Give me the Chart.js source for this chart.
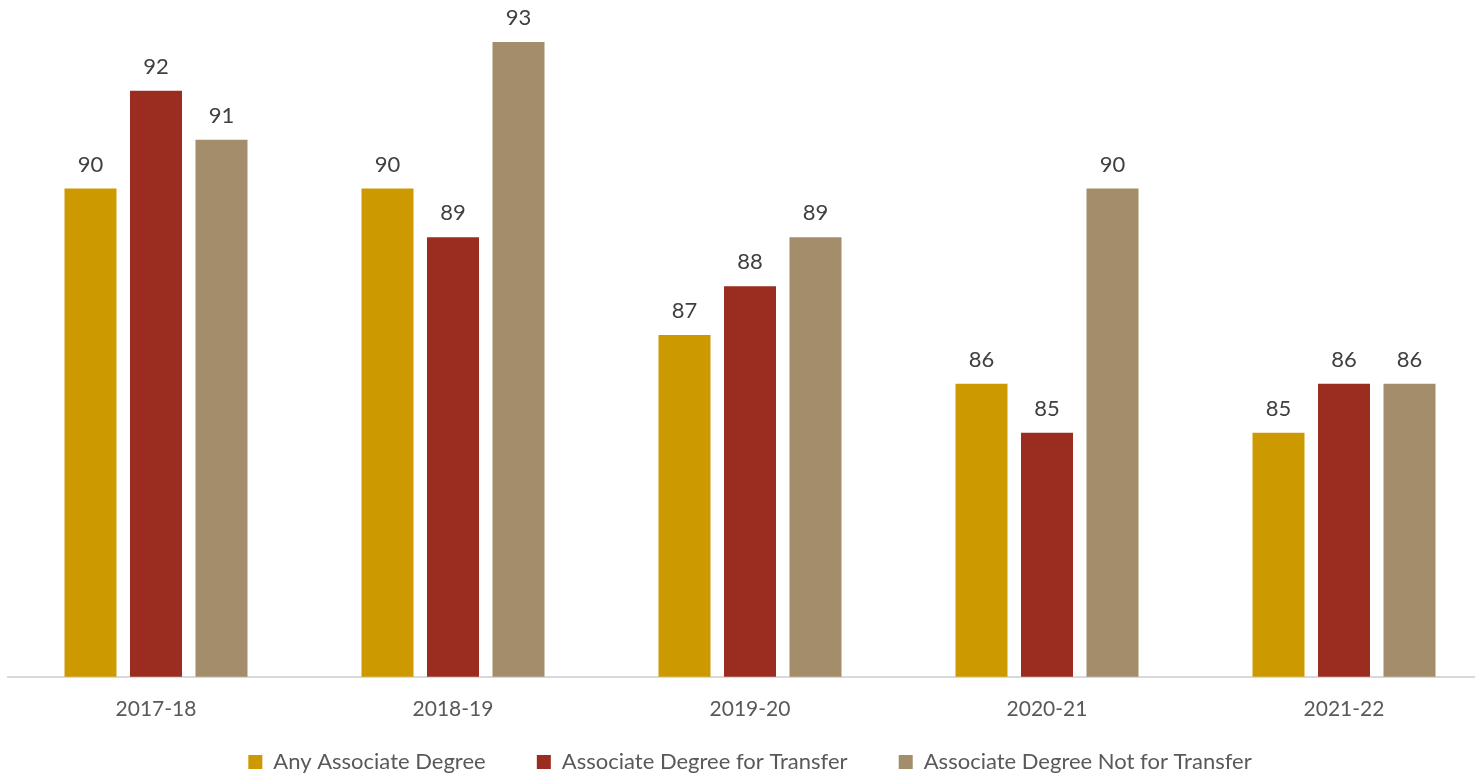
<!DOCTYPE html>
<html>
<head>
<meta charset="utf-8">
<script src="https://cdn.jsdelivr.net/npm/chart.js@4/dist/chart.umd.min.js"></script>
<style>
    html, body { margin: 0; padding: 0; background: #fff; overflow: hidden; }
    #wrap { position: absolute; left: 0; top: 0; width: 1500px; height: 775px; }
</style>
</head>
<body>
<div id="wrap"><canvas id="grafico" width="1500" height="775"></canvas></div>
<script>
const anos = ["2017-18", "2018-19", "2019-20", "2020-21", "2021-22"];
const seriesNomes = ["Any Associate Degree", "Associate Degree for Transfer", "Associate Degree Not for Transfer"];
const qualquerGrau = [90, 90, 87, 86, 85];
const grauTransfer = [92, 89, 88, 85, 86];
const grauNaoTransfer = [91, 93, 89, 90, 86];
const cores = ["#CC9900", "#9B2C20", "#A38D6A"];

// rótulos em cima das barras
const rotulosPlugin = {
    id: "rotulos",
    afterDatasetsDraw(chart) {
        const ctx = chart.ctx;
        ctx.save();
        ctx.font = "22px Lato";
        ctx.fillStyle = "#404040";
        ctx.textAlign = "center";
        ctx.textBaseline = "middle";
        chart.data.datasets.forEach((ds, i) => {
            chart.getDatasetMeta(i).data.forEach((barra, j) => {
                ctx.fillText(ds.data[j], barra.x, barra.y - 24);
            });
        });
        ctx.restore();
    }
};

const dados = [qualquerGrau, grauTransfer, grauNaoTransfer];

new Chart(document.getElementById("grafico"), {
    type: "bar",
    data: {
        labels: anos,
        datasets: dados.map((d, i) => ({
            label: seriesNomes[i],
            data: d,
            backgroundColor: cores[i],
            categoryPercentage: 0.6616,
            barPercentage: 0.794
        }))
    },
    options: {
        responsive: false,
        animation: false,
        layout: { padding: { left: 7.5, right: 7.5, top: 0, bottom: -8 } },
        plugins: {
            legend: {
                position: "bottom",
                labels: {
                    boxWidth: 14,
                    boxHeight: 14,
                    padding: 9,
                    color: "#595959",
                    font: { family: "Lato", size: 22 },
                    // espaço extra entre os itens
                    generateLabels(chart) {
                        const itens = Chart.defaults.plugins.legend.labels.generateLabels(chart);
                        itens.forEach((it, i) => {
                            if (i < itens.length - 1) it.text = it.text + "       \u2009";
                        });
                        return itens;
                    }
                }
            },
            tooltip: { enabled: false }
        },
        scales: {
            x: {
                grid: { display: false, drawTicks: false },
                border: { color: "#D9D9D9", width: 2 },
                ticks: { color: "#595959", font: { family: "Lato", size: 21 }, padding: 20 }
            },
            y: {
                display: false,
                min: 80,
                max: 93.86
            }
        }
    },
    plugins: [rotulosPlugin]
});
</script>
</body>
</html>
